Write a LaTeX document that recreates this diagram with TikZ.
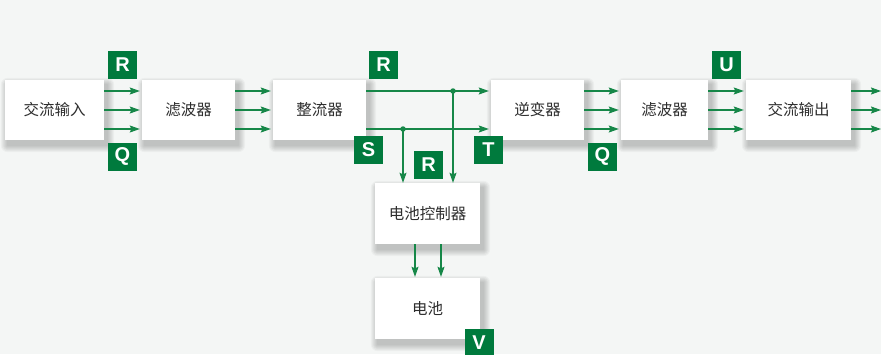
\documentclass[tikz,border=0pt]{standalone}
\usepackage{fontspec}
\setmainfont{Noto Sans CJK SC}
\newfontfamily\labfont{Liberation Sans}
\usetikzlibrary{arrows.meta,backgrounds,calc}
\definecolor{bg}{RGB}{244,246,245}
\definecolor{labgreen}{RGB}{0,122,61}
\definecolor{arrgreen}{RGB}{22,135,72}
\definecolor{txt}{RGB}{45,45,45}
\tikzset{
  box/.style={draw=none, fill=white, minimum height=60pt, inner sep=0pt,
    font=\fontsize{15.5}{18}\selectfont, text=txt},
  lab/.style={fill=labgreen, text=white, minimum width=29pt, minimum height=28pt, inner sep=0pt,
    font=\labfont\bfseries\fontsize{20}{20}\selectfont},
  arr/.style={draw=arrgreen, line width=1.2pt, -{Stealth[length=10pt,width=7pt,inset=1.5pt]}},
  dot/.style={circle, fill=arrgreen, inner sep=0pt, minimum size=5.5pt},
  shade layer/.style={fill=black, opacity=0.03}
}
\begin{document}
\begin{tikzpicture}[x=1pt,y=1pt]
\useasboundingbox (0,0) rectangle (881,-354);
% boxes
\node[box, minimum width=99pt]  (b1) at (54.5,-110) {交流输入};
\node[box, minimum width=93pt]  (b2) at (188.5,-110) {滤波器};
\node[box, minimum width=93pt]  (b3) at (319.5,-110) {整流器};
\node[box, minimum width=93pt]  (b4) at (537.5,-110) {逆变器};
\node[box, minimum width=87pt]  (b5) at (664.5,-110) {滤波器};
\node[box, minimum width=105pt] (b6) at (798.5,-110) {交流输出};
\node[box, minimum width=105pt, minimum height=61pt] (ctrl) at (427.5,-213.5) {电池控制器};
\node[box, minimum width=105pt, minimum height=61pt] (bat)  at (427.5,-308.5) {电池};
\begin{scope}[on background layer]
  \fill[bg] (0,0) rectangle (881,-354);
  \foreach \b in {b1,b2,b3,b4,b5,b6,ctrl,bat}{
    \foreach \r in {7,6,5,4,3,2,1}{
      \fill[shade layer, rounded corners=\r pt]
        ($(\b.south west)+(3-\r,-5-\r)$) rectangle ($(\b.north east)+(3+\r,-5+\r)$);
    }
  }
\end{scope}
% three-phase arrows
\foreach \s in {19,0,-19}{
  \draw[arr] ([yshift=\s pt]b1.east) -- ([yshift=\s pt, xshift=-2pt]b2.west);
  \draw[arr] ([yshift=\s pt]b2.east) -- ([yshift=\s pt, xshift=-2pt]b3.west);
  \draw[arr] ([yshift=\s pt]b4.east) -- ([yshift=\s pt, xshift=-2pt]b5.west);
  \draw[arr] ([yshift=\s pt]b5.east) -- ([yshift=\s pt, xshift=-2pt]b6.west);
}
\coordinate (o1) at (881,-91);
\coordinate (o2) at (881,-110);
\coordinate (o3) at (881,-129);
\draw[arr] ([yshift=19pt]b6.east) -- (o1);
\draw[arr] (b6.east) -- (o2);
\draw[arr] ([yshift=-19pt]b6.east) -- (o3);
% rectifier to inverter
\draw[arr] ([yshift=19pt]b3.east) -- ([yshift=19pt, xshift=-2pt]b4.west);
\draw[arr] ([yshift=-19pt]b3.east) -- ([yshift=-19pt, xshift=-2pt]b4.west);
\node[dot] (d1) at (453,-91) {};
\node[dot] (d2) at (403,-129) {};
\draw[arr] (d1.center) -- (d1.center |- ctrl.north);
\draw[arr] (d2.center) -- (d2.center |- ctrl.north);
% controller to battery
\draw[arr] ([xshift=-12.5pt]ctrl.south) -- ([xshift=-12.5pt, yshift=1pt]bat.north);
\draw[arr] ([xshift=13.5pt]ctrl.south) -- ([xshift=13.5pt, yshift=1pt]bat.north);
% labels
\node[lab] (lR1) at (122.5,-65) {R};
\node[lab] (lQ1) at (122.5,-156.5) {Q};
\node[lab] (lR2) at (383.5,-65) {R};
\node[lab] (lS)  at (368.5,-150) {S};
\node[lab] (lR3) at (428.5,-165) {R};
\node[lab] (lT)  at (488.5,-150) {T};
\node[lab] (lQ2) at (602.5,-156.5) {Q};
\node[lab] (lU)  at (726.5,-65) {U};
\node[lab] (lV)  at (479,-343) {V};
\end{tikzpicture}
\end{document}
